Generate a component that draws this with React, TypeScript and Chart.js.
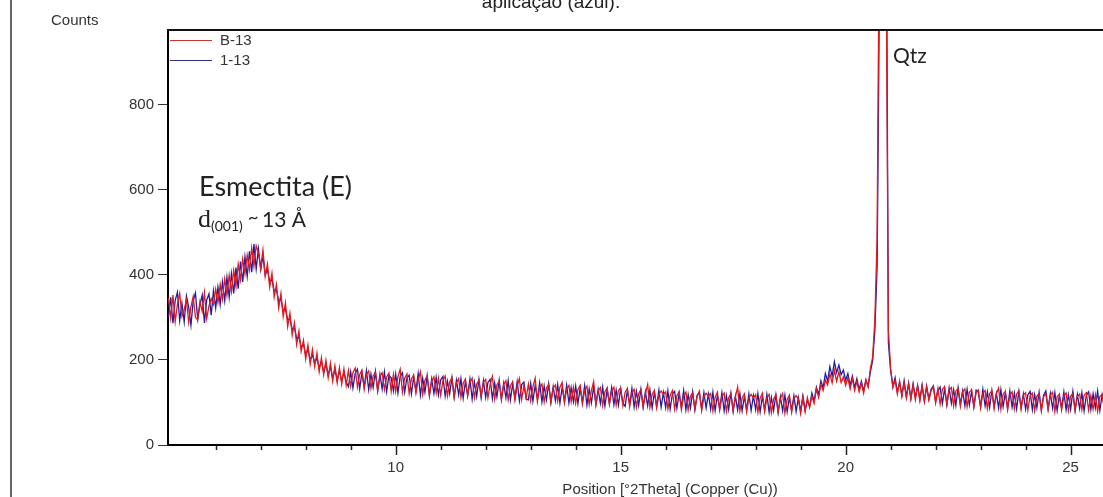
import React, { useEffect, useRef } from 'react';
import { Chart, registerables } from 'chart.js';

Chart.register(...registerables);

// ---- data ----
const START_2THETA = 4.95;
const STEP_2THETA = 0.05;
const X_MIN = 4.94;
const X_MAX = 25.72;
const Y_MAX = 975;
const SERIES_NAMES = ['B-13', '1-13'];
const SERIES_COLORS = ['#e5161c', '#1d1da6'];
const X_TICK_LABELS = [10, 15, 20, 25];
const Y_TICK_LABELS = [0, 200, 400, 600, 800];

// B-13 (red), one row per degree, starting at 4.95 °2θ, step 0.05
const countsB13 = [
  345, 298, 352, 290, 331, 356, 302, 318, 341, 288, 325, 349, 300, 294, 337, 314, 358, 297, 326, 344,
  330, 366, 335, 377, 342, 390, 352, 399, 361, 410, 372, 425, 388, 437, 402, 446, 412, 463, 420, 468,
  452, 415, 458, 396, 425, 371, 404, 348, 377, 322, 356, 302, 334, 278, 310, 258, 287, 236, 268, 220,
  246, 202, 235, 190, 224, 184, 216, 172, 205, 165, 199, 158, 192, 150, 186, 146, 182, 143, 179, 140,
  175, 138, 170, 181, 136, 166, 176, 131, 165, 174, 133, 162, 172, 128, 161, 170, 130, 160, 169, 126,
  166, 126, 160, 178, 124, 157, 167, 121, 155, 165, 122, 153, 172, 119, 152, 162, 118, 150, 160, 122,
  157, 117, 151, 162, 115, 148, 158, 113, 146, 156, 112, 145, 155, 116, 147, 157, 111, 143, 152, 115,
  147, 154, 111, 143, 161, 108, 141, 150, 107, 142, 151, 106, 139, 149, 105, 138, 156, 107, 140, 110,
  143, 104, 137, 157, 102, 135, 143, 101, 134, 142, 100, 133, 141, 103, 136, 147, 99, 131, 140, 102,
  136, 98, 130, 140, 96, 129, 138, 95, 128, 149, 94, 126, 135, 93, 125, 134, 96, 127, 136, 94,
  128, 134, 92, 124, 133, 90, 123, 131, 89, 121, 130, 88, 120, 142, 89, 119, 128, 87, 118, 127,
  119, 125, 85, 117, 128, 84, 116, 125, 83, 115, 124, 82, 114, 123, 85, 116, 127, 81, 113, 122,
  115, 121, 80, 112, 124, 82, 114, 122, 79, 111, 121, 81, 113, 136, 80, 110, 120, 78, 111, 119,
  111, 118, 77, 110, 122, 79, 111, 119, 76, 108, 118, 78, 109, 121, 75, 107, 117, 77, 109, 116,
  108, 74, 113, 78, 111, 88, 114, 98, 131, 112, 142, 128, 152, 141, 167, 146, 176, 150, 172, 147,
  160, 140, 158, 132, 156, 128, 150, 125, 145, 122, 154, 136, 180, 206, 295, 490, 1250, 2700, 2950, 1150,
  270, 180, 135, 152, 120, 150, 114, 146, 111, 143, 108, 141, 106, 139, 104, 138, 102, 136, 105, 128,
  136, 99, 133, 96, 131, 137, 94, 129, 135, 92, 127, 133, 91, 125, 132, 90, 124, 130, 89, 123,
  129, 88, 122, 128, 86, 121, 127, 85, 120, 134, 84, 119, 126, 83, 118, 125, 85, 120, 127, 84,
  117, 123, 82, 116, 122, 81, 115, 121, 80, 114, 120, 83, 117, 124, 79, 113, 119, 82, 116, 122,
  81, 115, 121, 80, 114, 120, 83, 117, 123, 82, 116, 84, 118, 79, 114, 119, 85,
];

// 1-13 (blue)
const counts113 = [
  300, 347, 286, 340, 359, 292, 333, 289, 350, 324, 281, 339, 357, 296, 330, 352, 287, 341, 355, 305,
  362, 322, 371, 330, 383, 339, 394, 347, 403, 356, 417, 367, 431, 383, 442, 396, 455, 406, 472, 414,
  461, 412, 445, 400, 412, 384, 389, 362, 365, 338, 342, 316, 320, 294, 296, 272, 276, 250, 254, 229,
  238, 212, 224, 200, 212, 192, 205, 181, 196, 171, 190, 164, 184, 157, 178, 152, 174, 150, 171, 148,
  137, 172, 134, 168, 178, 132, 170, 137, 175, 130, 167, 135, 173, 127, 166, 132, 172, 125, 164, 158,
  127, 167, 122, 161, 170, 124, 158, 164, 120, 160, 127, 168, 117, 157, 124, 163, 116, 155, 121, 159,
  118, 153, 161, 115, 150, 120, 158, 112, 152, 118, 156, 110, 149, 116, 155, 108, 148, 114, 154, 111,
  151, 112, 147, 154, 109, 146, 113, 152, 107, 145, 111, 151, 106, 143, 110, 149, 104, 142, 148, 108,
  106, 145, 103, 140, 108, 146, 101, 139, 106, 144, 100, 137, 104, 142, 98, 136, 103, 141, 99, 135,
  102, 139, 97, 134, 101, 140, 94, 132, 99, 137, 96, 131, 98, 136, 92, 130, 97, 135, 95, 129,
  94, 132, 98, 91, 129, 95, 133, 89, 126, 93, 131, 90, 125, 92, 130, 87, 124, 91, 129, 89,
  123, 88, 127, 84, 120, 126, 86, 122, 89, 128, 83, 119, 87, 125, 82, 117, 121, 85, 123, 87,
  120, 84, 124, 81, 117, 85, 123, 80, 116, 83, 122, 79, 115, 82, 121, 80, 114, 83, 120, 81,
  116, 83, 121, 78, 114, 82, 119, 77, 112, 81, 118, 76, 113, 80, 117, 78, 112, 81, 116, 79,
  112, 79, 115, 82, 105, 90, 122, 103, 136, 118, 151, 134, 168, 150, 184, 162, 196, 170, 188, 165,
  176, 152, 168, 140, 162, 135, 156, 130, 150, 127, 152, 138, 172, 198, 270, 420, 1050, 2500, 3100, 1400,
  240, 175, 138, 158, 124, 147, 117, 151, 113, 146, 109, 144, 112, 140, 107, 141, 104, 139, 108, 131,
  139, 102, 128, 136, 97, 132, 95, 134, 98, 130, 93, 135, 96, 127, 92, 131, 94, 126, 90, 129,
  124, 89, 131, 92, 125, 88, 128, 91, 121, 87, 130, 90, 123, 86, 127, 89, 122, 85, 126, 88,
  120, 84, 118, 126, 83, 119, 87, 124, 82, 117, 127, 85, 121, 86, 123, 81, 116, 88, 125, 83,
  118, 84, 126, 82, 119, 86, 123, 80, 117, 125, 83, 120, 87, 127, 81, 118, 90,
];

const toPoints = (vals: number[]) =>
  vals.map((y, i) => ({ x: +(START_2THETA + i * STEP_2THETA).toFixed(2), y }));

const SANS = "'Liberation Sans', Arial, sans-serif";

const decorPlugin = {
  id: 'decor',
  afterDraw(chart: any) {
    const ctx = chart.ctx as CanvasRenderingContext2D;
    const { left, top, right, bottom } = chart.chartArea;
    const xs = chart.scales.x;
    ctx.save();

    // top frame line
    ctx.strokeStyle = '#111';
    ctx.lineWidth = 2;
    ctx.beginPath();
    ctx.moveTo(left - 1, top);
    ctx.lineTo(right, top);
    ctx.stroke();

    // x tick marks (every degree, longer at multiples of 5)
    ctx.strokeStyle = '#222';
    ctx.lineWidth = 1.5;
    for (let v = 6; v <= 25; v++) {
      const px = Math.round(xs.getPixelForValue(v)) + 0.5;
      const len = v % 5 === 0 ? 9 : 4;
      ctx.beginPath();
      ctx.moveTo(px, bottom + 1);
      ctx.lineTo(px, bottom + 1 + len);
      ctx.stroke();
    }

    // left page rule
    ctx.strokeStyle = '#333';
    ctx.lineWidth = 1.5;
    ctx.beginPath();
    ctx.moveTo(11, 0);
    ctx.lineTo(11, 497);
    ctx.stroke();

    // cropped caption at top
    ctx.fillStyle = '#222';
    ctx.font = `19px ${SANS}`;
    ctx.textAlign = 'center';
    ctx.textBaseline = 'alphabetic';
    ctx.fillText('aplicação (azul).', 551, 8);

    // y axis caption
    ctx.fillStyle = '#333';
    ctx.font = `15px ${SANS}`;
    ctx.textAlign = 'left';
    ctx.fillText('Counts', 51, 25);

    // x axis title
    ctx.textAlign = 'center';
    ctx.fillText('Position [°2Theta] (Copper (Cu))', 670, 494);

    // legend
    const legY = [40, 60];
    SERIES_NAMES.forEach((name, i) => {
      ctx.strokeStyle = i === 0 ? '#c03838' : '#303088';
      ctx.lineWidth = 1;
      ctx.beginPath();
      ctx.moveTo(left + 2, legY[i] + 0.5);
      ctx.lineTo(left + 44, legY[i] + 0.5);
      ctx.stroke();
      ctx.fillStyle = '#333';
      ctx.font = `15px ${SANS}`;
      ctx.textAlign = 'left';
      ctx.textBaseline = 'middle';
      ctx.fillText(name, left + 52, legY[i] + 1);
    });

    // annotations
    ctx.textBaseline = 'alphabetic';
    ctx.fillStyle = '#222';
    ctx.textAlign = 'left';
    ctx.font = `27px Lato, 'Open Sans', sans-serif`;
    ctx.fillText('Esmectita (E)', 199, 196);

    ctx.font = `26px 'Liberation Serif', serif`;
    ctx.fillText('d', 198, 227);
    ctx.font = `14px Lato, sans-serif`;
    ctx.fillText('(001)', 211, 231);
    ctx.font = `18px Lato, sans-serif`;
    ctx.fillText('~', 248, 223);
    ctx.font = `21px Lato, sans-serif`;
    ctx.fillText('13 Å', 262, 227);

    ctx.font = `21px Lato, sans-serif`;
    ctx.fillText('Qtz', 893, 63);

    ctx.restore();
  },
};

export default function App() {
  const ref = useRef<HTMLCanvasElement>(null);

  useEffect(() => {
    if (!ref.current) return;
    const chart = new Chart(ref.current, {
      type: 'line',
      data: {
        datasets: [
          {
            label: SERIES_NAMES[0],
            data: toPoints(countsB13),
            borderColor: SERIES_COLORS[0],
            borderWidth: 1.3,
            pointRadius: 0,
            tension: 0,
            fill: false,
          },
          {
            label: SERIES_NAMES[1],
            data: toPoints(counts113),
            borderColor: SERIES_COLORS[1],
            borderWidth: 1.3,
            pointRadius: 0,
            tension: 0,
            fill: false,
          },
        ],
      },
      options: {
        animation: false,
        responsive: false,
        devicePixelRatio: 1,
        layout: { padding: { top: 30, left: 0, right: 0, bottom: 0 } },
        plugins: { legend: { display: false }, tooltip: { enabled: false }, title: { display: false } },
        scales: {
          x: {
            type: 'linear',
            min: X_MIN,
            max: X_MAX,
            afterBuildTicks: (s: any) => {
              s.ticks = X_TICK_LABELS.map((v) => ({ value: v }));
            },
            afterFit: (s: any) => {
              s.height = 52;
            },
            grid: { display: false, drawTicks: false, tickLength: 0 },
            border: { display: true, color: '#000', width: 2 },
            ticks: {
              autoSkip: false,
              maxRotation: 0,
              padding: 14,
              color: '#333',
              font: { family: SANS, size: 15 },
              callback: (v: any) => String(v),
            },
          },
          y: {
            type: 'linear',
            min: 0,
            max: Y_MAX,
            afterBuildTicks: (s: any) => {
              s.ticks = Y_TICK_LABELS.map((v) => ({ value: v }));
            },
            afterFit: (s: any) => {
              s.width = 168;
            },
            grid: { display: true, drawOnChartArea: false, drawTicks: true, tickLength: 10, color: '#333' },
            border: { display: true, color: '#000', width: 2 },
            ticks: {
              autoSkip: false,
              padding: 4,
              color: '#333',
              font: { family: SANS, size: 15 },
              callback: (v: any) => String(v),
            },
          },
        },
      },
      plugins: [decorPlugin],
    });
    return () => chart.destroy();
  }, []);

  return (
    <div style={{ position: 'absolute', left: 0, top: 0, width: 1103, height: 497, background: '#fff' }}>
      <canvas ref={ref} width={1103} height={497} style={{ display: 'block' }} />
    </div>
  );
}
